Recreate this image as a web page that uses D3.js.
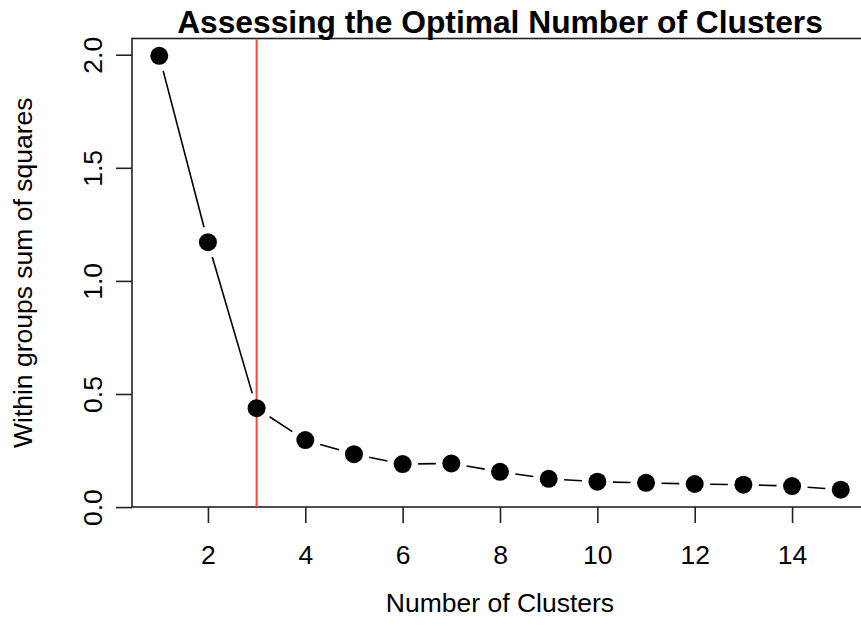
<!DOCTYPE html>
<html>
<head>
<meta charset="utf-8">
<script src="https://cdn.jsdelivr.net/npm/d3@7"></script>
<style>
  html, body { margin: 0; padding: 0; background: #fff; }
  svg { display: block; font-family: "Liberation Sans", Arial, Helvetica, sans-serif; }
</style>
</head>
<body>
<svg id="chart" width="861" height="635"></svg>
<script>
// Within-cluster sum of squares for k = 1..15
const clusters = [1, 2, 3, 4, 5, 6, 7, 8, 9, 10, 11, 12, 13, 14, 15];
const wss = [1.995, 1.171, 0.437, 0.296, 0.234, 0.190, 0.193, 0.156, 0.125, 0.112, 0.107, 0.102, 0.099, 0.093, 0.077];
const xTicks = [2, 4, 6, 8, 10, 12, 14];
const yTicks = [0.0, 0.5, 1.0, 1.5, 2.0];
const chosenK = [3];

const titleText = "Assessing the Optimal Number of Clusters";
const xLabel = "Number of Clusters";
const yLabel = "Within groups sum of squares";

const svg = d3.select("#chart");
const plot = { left: 132, right: 868, top: 38.5, bottom: 507 };

// R-style 4% padding around the data range
const xr = d3.extent(clusters), xpad = (xr[1] - xr[0]) * 0.04;
const yr = d3.extent(wss), ypad = (yr[1] - yr[0]) * 0.04;
const x = d3.scaleLinear().domain([xr[0] - xpad, xr[1] + xpad]).range([plot.left, plot.right]);
const y = d3.scaleLinear().domain([yr[0] - ypad, yr[1] + ypad]).range([plot.bottom, plot.top]);

const axisColor = "#222";
const fontSize = 26.5;

// plot frame
svg.append("rect")
  .attr("x", plot.left).attr("y", plot.top)
  .attr("width", plot.right - plot.left).attr("height", plot.bottom - plot.top)
  .attr("fill", "none").attr("stroke", axisColor).attr("stroke-width", 1.6);

// x axis
const xAxis = svg.append("g")
  .attr("transform", `translate(0,${plot.bottom})`)
  .call(d3.axisBottom(x).tickValues(xTicks).tickFormat(d3.format("d")).tickSize(16).tickPadding(22));
xAxis.select(".domain").remove();
xAxis.selectAll("line").attr("stroke", axisColor).attr("stroke-width", 1.6);
xAxis.selectAll("text").attr("font-size", fontSize).attr("fill", "#000")
  .attr("font-family", "Liberation Sans, Arial, sans-serif");

// y axis with labels rotated parallel to the axis
const yAxis = svg.append("g")
  .attr("transform", `translate(${plot.left},0)`)
  .call(d3.axisLeft(y).tickValues(yTicks).tickFormat(d3.format(".1f")).tickSize(16));
yAxis.select(".domain").remove();
yAxis.selectAll("line").attr("stroke", axisColor).attr("stroke-width", 1.6);
yAxis.selectAll("text")
  .attr("font-size", fontSize).attr("fill", "#000")
  .attr("font-family", "Liberation Sans, Arial, sans-serif")
  .attr("x", null).attr("dy", null)
  .attr("text-anchor", "middle")
  .attr("transform", "translate(-30,0) rotate(-90)");

// connecting segments with gaps around each point (type = "b")
const gap = 15.5;
const pts = clusters.map((k, i) => [x(k), y(wss[i])]);
const segs = [];
for (let i = 0; i < pts.length - 1; i++) {
  const [x0, y0] = pts[i], [x1, y1] = pts[i + 1];
  const len = Math.hypot(x1 - x0, y1 - y0);
  if (len <= 2 * gap) continue;
  const ux = (x1 - x0) / len, uy = (y1 - y0) / len;
  segs.push([x0 + ux * gap, y0 + uy * gap, x1 - ux * gap, y1 - uy * gap]);
}
svg.append("g").selectAll("line").data(segs).join("line")
  .attr("x1", d => d[0]).attr("y1", d => d[1])
  .attr("x2", d => d[2]).attr("y2", d => d[3])
  .attr("stroke", "#000").attr("stroke-width", 1.6);

// vertical reference line at the chosen k
svg.append("g").selectAll("line").data(chosenK).join("line")
  .attr("x1", d => x(d)).attr("x2", d => x(d))
  .attr("y1", plot.top).attr("y2", plot.bottom)
  .attr("stroke", "#f5473b").attr("stroke-width", 2);

// points
svg.append("g").selectAll("circle").data(clusters).join("circle")
  .attr("cx", d => x(d)).attr("cy", (d, i) => y(wss[i]))
  .attr("r", 9).attr("fill", "#000");

// title, fitted across its span
const title = svg.append("text")
  .attr("x", (plot.left + plot.right) / 2).attr("y", 33)
  .attr("text-anchor", "middle").attr("font-weight", "bold")
  .attr("font-size", 30).attr("fill", "#000")
  .text(titleText);
const tw = title.node().getComputedTextLength();
title.attr("font-size", 30 * 646 / tw);

// axis titles
svg.append("text")
  .attr("x", (plot.left + plot.right) / 2).attr("y", 612)
  .attr("text-anchor", "middle").attr("font-size", fontSize).attr("fill", "#000")
  .text(xLabel);

svg.append("text")
  .attr("transform", `translate(32,${(plot.top + plot.bottom) / 2}) rotate(-90)`)
  .attr("text-anchor", "middle").attr("font-size", fontSize).attr("fill", "#000")
  .text(yLabel);
</script>
</body>
</html>
